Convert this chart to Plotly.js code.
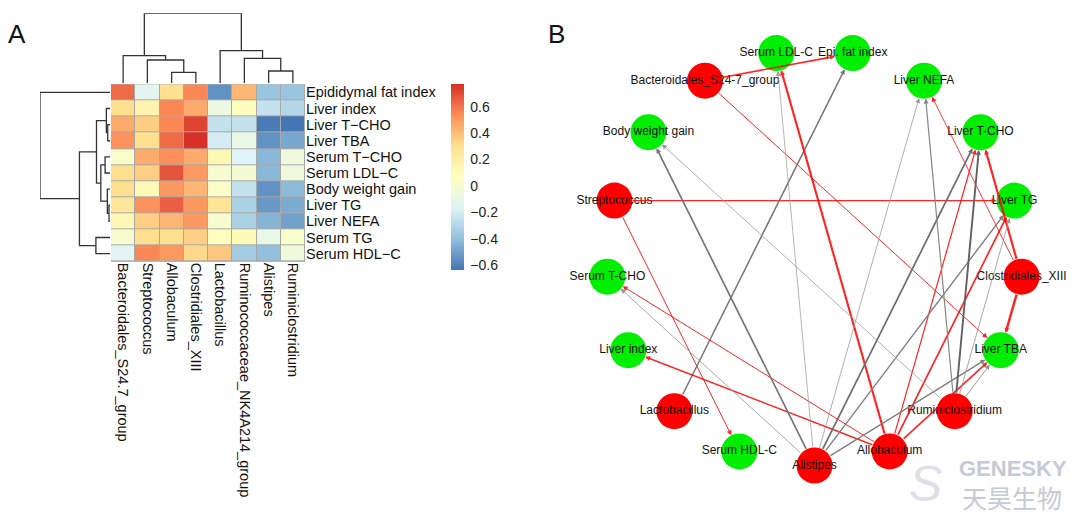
<!DOCTYPE html>
<html><head><meta charset="utf-8">
<script src="https://cdn.plot.ly/plotly-3.0.1.min.js"></script>
<style>html,body{margin:0;padding:0;background:#fff;}#chart{width:1080px;height:517px;}</style>
</head><body><div id="chart"></div>
<script>
// ---------- Panel A data ----------
const traitRows = ['Epididymal fat index','Liver index','Liver T\u2212CHO','Liver TBA','Serum T\u2212CHO','Serum LDL\u2212C','Body weight gain','Liver TG','Liver NEFA','Serum TG','Serum HDL\u2212C'];
const genusCols = ['Bacteroidales_S24.7_group','Streptococcus','Allobaculum','Clostridiales_XIII','Lactobacillus','Ruminococcaceae_NK4A214_group','Alistipes','Ruminiclostridium'];
const corrValues = [
  [ 0.62,-0.15, 0.30, 0.55,-0.55, 0.42,-0.38,-0.38],
  [ 0.30, 0.15, 0.55, 0.45,-0.07, 0.08,-0.25,-0.30],
  [ 0.45, 0.35, 0.55, 0.72,-0.25,-0.25,-0.62,-0.64],
  [ 0.52, 0.30, 0.62, 0.77,-0.20,-0.10,-0.55,-0.48],
  [ 0.02, 0.45, 0.53, 0.45, 0.12,-0.17,-0.43,-0.05],
  [ 0.30, 0.35, 0.68, 0.50, 0.00,-0.02,-0.43,-0.05],
  [ 0.30, 0.10, 0.50, 0.42, 0.03,-0.25,-0.55,-0.42],
  [ 0.25, 0.52, 0.65, 0.50, 0.27,-0.33,-0.53,-0.47],
  [ 0.12, 0.35, 0.42, 0.50, 0.00,-0.33,-0.44,-0.50],
  [ 0.00, 0.30, 0.30, 0.35, 0.07, 0.10,-0.10, 0.02],
  [-0.15, 0.55, 0.50, 0.32, 0.37,-0.35,-0.40,-0.05]
];
const colorbarTicks = [-0.6,-0.4,-0.2,0,0.2,0.4,0.6];
const zMin = -0.64, zMax = 0.77;
// hclust-style merges (negative = leaf, positive = earlier merge) and heights
const colMerges = [[-3,-4],[-7,-8],[-2,1],[-6,2],[-1,3],[-5,4],[5,6]];
const colHeights = [11,12.3,23.3,25,27.6,32.6,70];
const rowMerges = [[-8,-9],[-3,-4],[-7,1],[-2,2],[-5,-6],[5,3],[4,6],[-10,-11],[7,8],[-1,9]];
const rowHeights = [1,2.3,2.7,3.7,5,9.3,13.7,14.3,31,71];

// ---------- Panel B data ----------
const netNodes = ['Alistipes','Allobaculum','Ruminiclostridium','Liver TBA','Clostridiales_XIII','Liver TG','Liver T-CHO','Liver NEFA','Epi. fat index','Serum LDL-C','Bacteroidales_S24-7_group','Body weight gain','Streptococcus','Serum T-CHO','Liver index','Lactobacillus','Serum HDL-C'];
const netNodeKind = ['genus','genus','genus','trait','genus','trait','trait','trait','trait','trait','genus','trait','genus','trait','trait','genus','trait'];
const edgeSource = ['Bacteroidales_S24-7_group','Bacteroidales_S24-7_group','Streptococcus','Streptococcus','Lactobacillus','Clostridiales_XIII','Clostridiales_XIII','Clostridiales_XIII','Allobaculum','Allobaculum','Allobaculum','Allobaculum','Allobaculum','Allobaculum','Alistipes','Alistipes','Alistipes','Alistipes','Alistipes','Alistipes','Alistipes','Ruminiclostridium','Ruminiclostridium','Ruminiclostridium','Ruminiclostridium','Ruminiclostridium'];
const edgeTarget = ['Epi. fat index','Liver TBA','Liver TG','Serum HDL-C','Epi. fat index','Liver T-CHO','Liver TBA','Liver NEFA','Serum LDL-C','Liver index','Serum T-CHO','Liver T-CHO','Liver TG','Liver TBA','Body weight gain','Serum T-CHO','Serum LDL-C','Liver NEFA','Liver T-CHO','Liver TG','Liver TBA','Body weight gain','Liver NEFA','Liver T-CHO','Liver TG','Liver TBA'];
const edgeR = [0.62,0.48,0.52,0.48,-0.58,0.72,0.77,0.46,0.70,0.58,0.48,0.52,0.62,0.60,-0.60,-0.45,-0.43,-0.44,-0.62,-0.55,-0.55,-0.44,-0.52,-0.66,-0.45,-0.47];

// ---------- helpers ----------
function dendroLines(merges, heights){
  const pos=[], hgt=[], P=[], H=[];
  const child=c=>c<0?[-c-1,0]:[pos[c-1],hgt[c-1]];
  merges.forEach((m,i)=>{
    const [pl,hl]=child(m[0]); const [pr,hr]=child(m[1]); const h=heights[i];
    P.push(pl,pl,pr,pr,null); H.push(hl,h,h,hr,null);
    pos.push((pl+pr)/2); hgt.push(h);
  });
  return {P,H};
}
const W=1080, Hh=517;
const fx=px=>px/W, fy=py=>1-py/Hh;
const font='Arial, "Liberation Sans", sans-serif';

const colD = dendroLines(colMerges,colHeights);
const rowD = dendroLines(rowMerges,rowHeights);
const colIdx = genusCols.map((_,i)=>i), rowIdx = traitRows.map((_,i)=>i);

const traces = [];
traces.push({
  type:'heatmap', x:colIdx, y:rowIdx, z:corrValues, xaxis:'x', yaxis:'y',
  zmin:zMin, zmax:zMax, xgap:1, ygap:1, hoverinfo:'skip',
  colorscale:[[0,'#4575B4'],[1/6,'#91BFDB'],[2/6,'#E0F3F8'],[3/6,'#FFFFBF'],[4/6,'#FEE090'],[5/6,'#FC8D59'],[1,'#D73027']],
  colorbar:{x:fx(451),xanchor:'left',y:fy(84.3),yanchor:'top',len:186,lenmode:'pixels',thickness:13,thicknessmode:'pixels',
    outlinewidth:0,tickvals:colorbarTicks,ticks:'outside',ticklen:4,tickcolor:'rgba(0,0,0,0)',
    tickfont:{family:font,size:14,color:'#222'},xpad:0,ypad:0}
});
traces.push({type:'scatter',mode:'lines',x:colD.P,y:colD.H,xaxis:'x',yaxis:'y3',line:{color:'#333',width:1.3},hoverinfo:'skip',showlegend:false,cliponaxis:false});
traces.push({type:'scatter',mode:'lines',x:rowD.H,y:rowD.P,xaxis:'x4',yaxis:'y',line:{color:'#333',width:1.3},hoverinfo:'skip',showlegend:false,cliponaxis:false});

// network nodes on a circle
const N=netNodes.length;
const nx=netNodes.map((_,i)=>Math.cos(-Math.PI/2+i*2*Math.PI/N));
const ny=netNodes.map((_,i)=>Math.sin(-Math.PI/2+i*2*Math.PI/N));
traces.push({type:'scatter',mode:'markers+text',x:nx,y:ny,xaxis:'x2',yaxis:'y2',text:netNodes,textposition:'middle center',
  textfont:{family:font,size:12,color:'#111'},
  marker:{size:36,color:netNodeKind.map(k=>k==='genus'?'#FF0000':'#00EE00'),line:{width:0}},
  hoverinfo:'skip',showlegend:false,cliponaxis:false});

const annotations=[];
edgeSource.forEach((s,k)=>{
  const i=netNodes.indexOf(s), j=netNodes.indexOf(edgeTarget[k]);
  const a=Math.abs(edgeR[k]);
  const w=Math.max(0.6,0.6+(a-0.4)*5);
  const pos=edgeR[k]>0;
  const g=Math.round(165-(a-0.4)*260);
  annotations.push({x:nx[j],y:ny[j],ax:nx[i],ay:ny[i],xref:'x2',yref:'y2',axref:'x2',ayref:'y2',text:'',showarrow:true,
    arrowhead:2,arrowsize:1.0/w,arrowwidth:w,arrowcolor:pos?'rgba(255,0,0,0.85)':`rgb(${g},${g},${g})`,standoff:18,startstandoff:17});
});
annotations.push({xref:'paper',yref:'paper',x:fx(6),y:fy(34),xanchor:'left',yanchor:'middle',text:'A',showarrow:false,font:{family:font,size:26,color:'#111'}});
annotations.push({xref:'paper',yref:'paper',x:fx(546),y:fy(34),xanchor:'left',yanchor:'middle',text:'B',showarrow:false,font:{family:font,size:26,color:'#111'}});
annotations.push({xref:'paper',yref:'paper',x:fx(1013),y:fy(468),xanchor:'center',yanchor:'middle',text:'<b>GENESKY</b>',showarrow:false,font:{family:font,size:22,color:'#c6cad4'}});
annotations.push({xref:'paper',yref:'paper',x:fx(1012),y:fy(497),xanchor:'center',yanchor:'middle',text:'天昊生物',showarrow:false,font:{family:'"Noto Sans CJK SC", sans-serif',size:25,color:'#c6cad4'}});
annotations.push({xref:'paper',yref:'paper',x:fx(925),y:fy(484),xanchor:'center',yanchor:'middle',text:'<i>S</i>',showarrow:false,font:{family:font,size:50,color:'#dde0e6'}});

const hidden={showgrid:false,zeroline:false,showticklabels:false,showline:false,ticks:'',fixedrange:true};
const layout={
  width:W,height:Hh,margin:{l:0,r:0,t:0,b:0},paper_bgcolor:'#fff',plot_bgcolor:'rgba(0,0,0,0)',showlegend:false,
  xaxis:{domain:[fx(111),fx(305)],range:[-0.5,genusCols.length-0.5],anchor:'y',tickvals:colIdx,ticktext:genusCols,tickangle:90,
    ticks:'',showgrid:false,zeroline:false,showline:false,tickfont:{family:font,size:14.5,color:'#111'},fixedrange:true},
  yaxis:{domain:[fy(261.7),fy(84.3)],range:[traitRows.length-0.5,-0.5],anchor:'x',side:'right',tickvals:rowIdx,ticktext:traitRows,
    ticks:'',showgrid:false,zeroline:false,showline:false,tickfont:{family:font,size:14.5,color:'#111'},fixedrange:true},
  yaxis3:Object.assign({domain:[fy(83.3),fy(13.3)],range:[0,70],anchor:'x'},hidden),
  xaxis4:Object.assign({domain:[fx(40),fx(110)],range:[71,0],anchor:'y'},hidden),
  xaxis2:Object.assign({domain:[fx(555),fx(1074)],range:[(555-814.5)/208,(1074-814.5)/208],anchor:'y2'},hidden),
  yaxis2:Object.assign({domain:[fy(505),fy(10)],range:[(257.5-505)/208,(257.5-10)/208],anchor:'x2'},hidden),
  shapes:[{type:'rect',xref:'x',yref:'y',x0:-0.5,x1:genusCols.length-0.5,y0:-0.5,y1:traitRows.length-0.5,
    fillcolor:'#a8a8a8',line:{color:'#a8a8a8',width:1},layer:'below'}],
  annotations:annotations
};
Plotly.newPlot('chart',traces,layout,{staticPlot:true,displayModeBar:false});
</script></body></html>
